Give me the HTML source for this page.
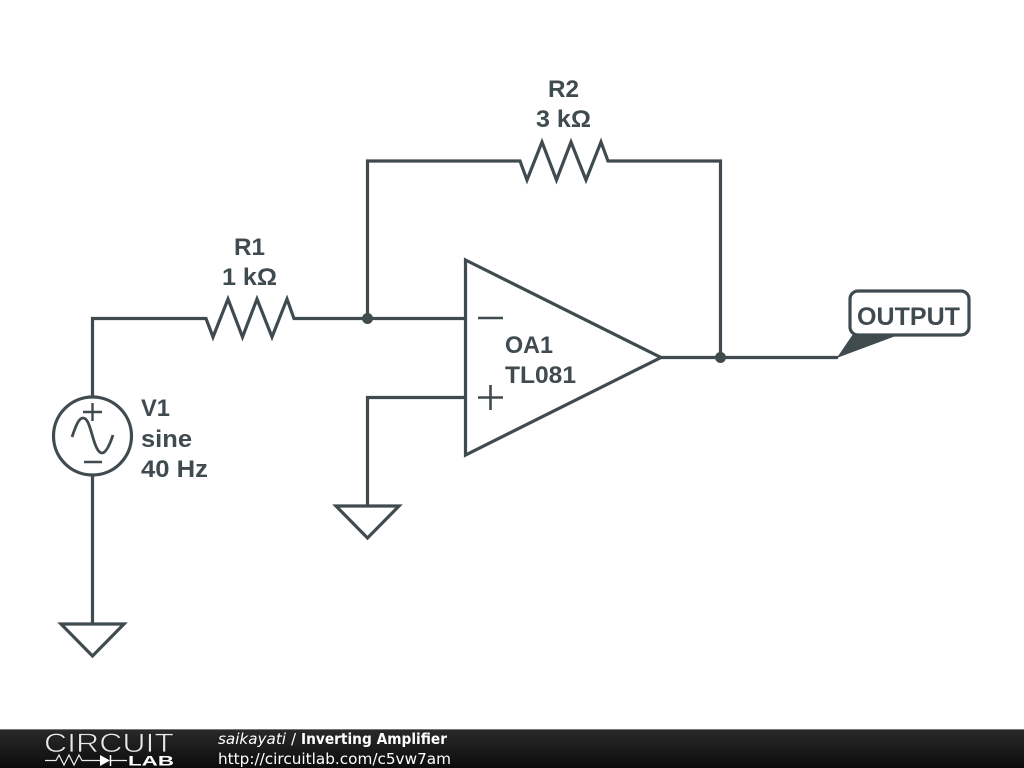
<!DOCTYPE html>
<html><head><meta charset="utf-8"><style>
html,body{margin:0;padding:0;background:#fff;width:1024px;height:768px;overflow:hidden}
svg{display:block}
</style></head><body>
<svg width="1024" height="768" viewBox="0 0 1024 768" xmlns="http://www.w3.org/2000/svg">
<defs><linearGradient id="f" x1="0" y1="0" x2="0" y2="1"><stop offset="0" stop-color="#2a2a2a"/><stop offset="1" stop-color="#0c0c0c"/></linearGradient></defs>
<rect width="1024" height="768" fill="#fff"/>
<g fill="none" stroke="#404b50" stroke-width="3.200" stroke-linejoin="miter" stroke-linecap="butt">
<path d="M92.500 396V318.500H206L213 337L228 299L242.500 337L257 299L272 337L287 299L294 318.500H465"/>
<path d="M367.500 318V161H520L527 180L542 142L556.500 180L571 142L586 180L601 142L608 161H720.500V357"/>
<path d="M465.500 260L661 357.500L465.500 455Z"/>
<path d="M661 357.500H838"/>
<path d="M367.500 506V397.500H465"/>
<path d="M478 318H503M478 397.500H503M490.500 385V410" stroke-width="2.600"/>
<circle cx="92.500" cy="436" r="39"/>
<path d="M92.500 476V624"/>
<path d="M61 624H124L92.500 656Z"/>
<path d="M336 506H399L367.500 538Z"/>
<path d="M83 412H102M92.500 403V421M84 462H102" stroke-width="2.400"/>
<path d="M72 437C76 425 79 418 83 418C88 418 90 428 92.500 436C95 445 98 453 102 453C106 453 110 444 113 435" stroke-width="2.800"/>
<rect x="850" y="291" width="119" height="44" rx="8" fill="#fff"/>
</g>
<path d="M838 357L853 335H897Z" fill="#404b50" stroke="#404b50" stroke-width="1"/>
<circle cx="367.500" cy="318.500" r="5.500" fill="#404b50"/>
<circle cx="720.500" cy="357.500" r="5.500" fill="#404b50"/>
<g font-family="'Liberation Sans',sans-serif" font-weight="700" font-size="24" fill="#404b50">
<text x="548" y="97" textLength="31" lengthAdjust="spacingAndGlyphs">R2</text>
<text x="536" y="127" textLength="55" lengthAdjust="spacingAndGlyphs">3 kΩ</text>
<text x="234" y="255" textLength="31" lengthAdjust="spacingAndGlyphs">R1</text>
<text x="222" y="285" textLength="55" lengthAdjust="spacingAndGlyphs">1 kΩ</text>
<text x="505" y="353" textLength="48" lengthAdjust="spacingAndGlyphs">OA1</text>
<text x="505" y="383" textLength="71" lengthAdjust="spacingAndGlyphs">TL081</text>
<text x="141" y="416" textLength="29" lengthAdjust="spacingAndGlyphs">V1</text>
<text x="141" y="447" textLength="51" lengthAdjust="spacingAndGlyphs">sine</text>
<text x="141" y="477" textLength="67" lengthAdjust="spacingAndGlyphs">40 Hz</text>
<text x="857" y="325" font-size="25" textLength="103" lengthAdjust="spacingAndGlyphs">OUTPUT</text>
</g>
<rect y="729" width="1024" height="39" fill="url(#f)"/>
<rect y="729" width="1024" height="1" fill="#777"/>
<text x="44" y="752" font-family="'Liberation Sans',sans-serif" font-size="26.500" fill="#e8e8e8" stroke="#1a1a1a" stroke-width=".7" textLength="130" lengthAdjust="spacingAndGlyphs">CIRCUIT</text>
<path d="M45 760.500H56L59 755L64 765L69 755L74 765L79 755L82 760.500H100M110 760.500H127" fill="none" stroke="#eee" stroke-width="1.200"/>
<path d="M100 755L110 760.500L100 766Z" fill="#fff"/>
<path d="M110.500 755V766" stroke="#fff" stroke-width="1.500"/>
<text x="128" y="765.500" font-family="'Liberation Sans',sans-serif" font-weight="700" font-size="14" fill="#fff" textLength="46" lengthAdjust="spacingAndGlyphs">LAB</text>
<g font-family="'DejaVu Sans',sans-serif" font-size="15" fill="#fff">
<text x="218" y="744" textLength="68" lengthAdjust="spacingAndGlyphs" font-style="italic">saikayati</text>
<text x="291" y="744">/</text>
<text x="301" y="744" font-weight="700" textLength="146" lengthAdjust="spacingAndGlyphs">Inverting Amplifier</text>
<text x="218" y="764" textLength="233" lengthAdjust="spacingAndGlyphs">http://circuitlab.com/c5vw7am</text>
</g>
</svg>
</body></html>
